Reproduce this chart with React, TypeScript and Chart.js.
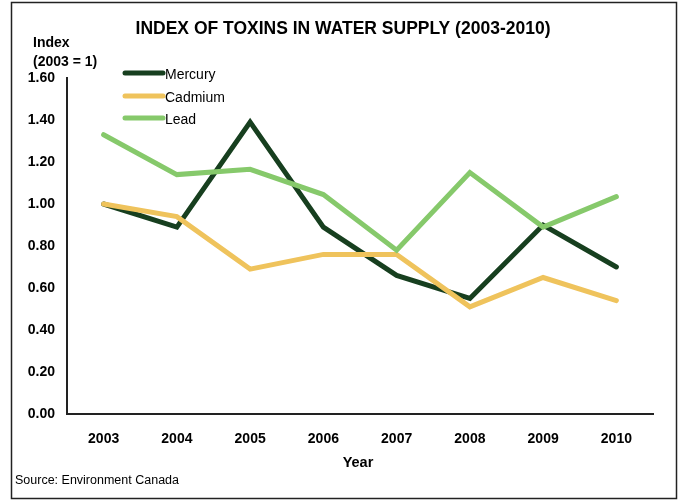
import React, { useEffect, useRef } from "react";
import { Chart, registerables } from "chart.js";

Chart.register(...registerables);

const years = ["2003", "2004", "2005", "2006", "2007", "2008", "2009", "2010"];
const mercury = [1.0, 0.89, 1.39, 0.89, 0.66, 0.55, 0.9, 0.7];
const cadmium = [1.0, 0.94, 0.69, 0.76, 0.76, 0.51, 0.65, 0.54];
const lead = [1.33, 1.14, 1.165, 1.045, 0.78, 1.15, 0.89, 1.035];

const seriesNames = ["Mercury", "Cadmium", "Lead"];
const seriesColors = ["#173f1f", "#efc35c", "#86c96b"];

const titleText = "INDEX OF TOXINS IN WATER SUPPLY (2003-2010)";
const yTitleLines = ["Index", "(2003 = 1)"];
const xTitleText = "Year";
const sourceText = "Source: Environment Canada";

const FONT = "'Liberation Sans', Arial, sans-serif";

const decorations = {
  id: "decorations",
  afterDraw(chart: any) {
    const ctx = chart.ctx as CanvasRenderingContext2D;
    const area = chart.chartArea;
    ctx.save();

    // outer frame
    ctx.strokeStyle = "#222";
    ctx.lineWidth = 1.5;
    ctx.strokeRect(11.5, 2.5, 665, 496);

    ctx.fillStyle = "#000";

    // main title
    ctx.font = `bold 17.5px ${FONT}`;
    ctx.textAlign = "center";
    ctx.textBaseline = "alphabetic";
    ctx.fillText(titleText, 343, 34);

    // y axis title
    ctx.font = `bold 14px ${FONT}`;
    ctx.textAlign = "left";
    ctx.textBaseline = "middle";
    ctx.fillText(yTitleLines[0], 33, 43);
    ctx.fillText(yTitleLines[1], 33, 62);

    // x axis title
    ctx.font = `bold 14.5px ${FONT}`;
    ctx.textAlign = "center";
    ctx.fillText(xTitleText, (area.left + area.right) / 2 - 2, 463);

    // source note
    ctx.font = `12.5px ${FONT}`;
    ctx.textAlign = "left";
    ctx.fillText(sourceText, 15, 481);

    // legend
    const legendX = 125;
    const legendY = [73, 96, 118];
    chart.data.datasets.forEach((ds: any, i: number) => {
      ctx.strokeStyle = ds.borderColor;
      ctx.lineWidth = 5;
      ctx.lineCap = "round";
      ctx.beginPath();
      ctx.moveTo(legendX, legendY[i]);
      ctx.lineTo(legendX + 38, legendY[i]);
      ctx.stroke();
      ctx.fillStyle = "#000";
      ctx.font = `14px ${FONT}`;
      ctx.textAlign = "left";
      ctx.textBaseline = "middle";
      ctx.fillText(ds.label, legendX + 40, legendY[i] + 2);
    });

    ctx.restore();
  },
};

export default function App() {
  const canvasRef = useRef<HTMLCanvasElement | null>(null);

  useEffect(() => {
    if (!canvasRef.current) return;
    const values = [mercury, cadmium, lead];
    const chart = new Chart(canvasRef.current, {
      type: "line",
      data: {
        labels: years,
        datasets: values.map((v, i) => ({
          label: seriesNames[i],
          data: v,
          borderColor: seriesColors[i],
          backgroundColor: seriesColors[i],
          borderWidth: 5,
          pointRadius: 0,
          pointHoverRadius: 0,
          tension: 0,
          fill: false,
          borderCapStyle: "round" as const,
          order: 3 - i,
        })),
      },
      options: {
        responsive: false,
        animation: false,
        events: [],
        layout: { padding: { top: 78, right: 28, left: 0, bottom: 0 } },
        plugins: {
          legend: { display: false },
          title: { display: false },
          tooltip: { enabled: false },
        },
        scales: {
          x: {
            type: "category",
            offset: true,
            grid: { display: false, drawTicks: false },
            border: { display: true, color: "#222", width: 2 },
            ticks: {
              color: "#000",
              font: { family: FONT, size: 14, weight: "bold" },
              padding: 17,
              maxRotation: 0,
            },
            afterFit: (scale: any) => {
              scale.height = 87;
            },
          },
          y: {
            min: 0,
            max: 1.6,
            grid: { display: false, drawTicks: false },
            border: { display: true, color: "#222", width: 2 },
            ticks: {
              stepSize: 0.2,
              color: "#000",
              font: { family: FONT, size: 14, weight: "bold" },
              padding: 12,
              callback: (v: any) => Number(v).toFixed(2),
            },
            afterFit: (scale: any) => {
              scale.width = 67;
            },
          },
        },
      },
      plugins: [decorations],
    });
    return () => chart.destroy();
  }, []);

  return (
    <div style={{ position: "fixed", left: 0, top: 0, width: 681, height: 501, background: "#fff" }}>
      <canvas ref={canvasRef} width={681} height={501} style={{ width: 681, height: 501, display: "block" }} />
    </div>
  );
}
